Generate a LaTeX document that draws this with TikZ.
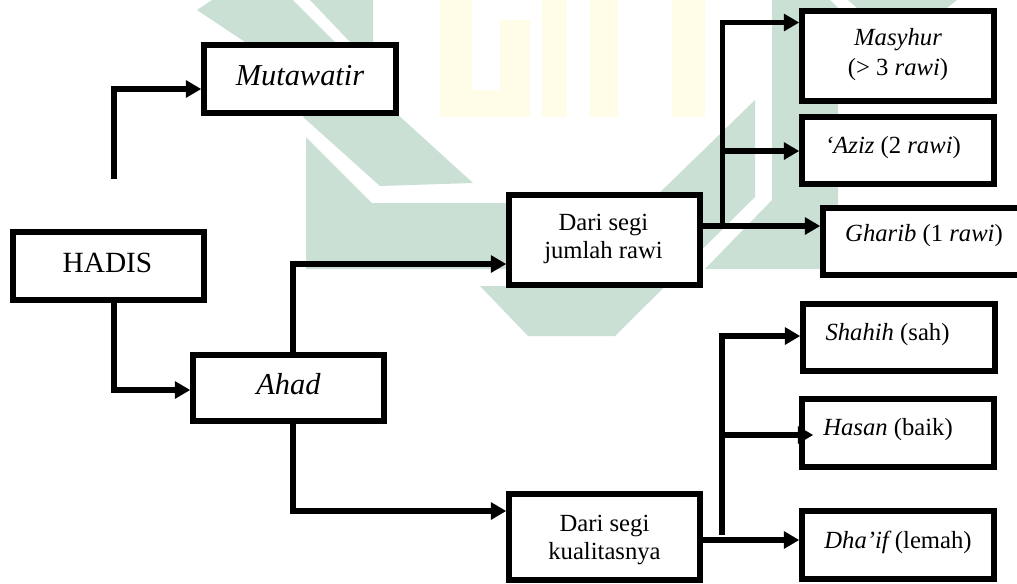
\documentclass[tikz,border=0pt]{standalone}
\usepackage{fontspec}
\setmainfont{Liberation Serif}
\usetikzlibrary{arrows.meta}
\definecolor{wmgreen}{HTML}{CBE0D4}
\definecolor{wmyellow}{HTML}{FFFDE8}
\newcommand{\offtext}[3]{\makebox[0pt][c]{\hspace*{\dimexpr#1pt*3/2\relax}\raisebox{\dimexpr#2pt*3/4\relax}[0pt][0pt]{\begin{tabular}[b]{@{}c@{}}#3\end{tabular}}}}
\newcommand{\bignf}{\fontsize{22}{26}\selectfont}
\newcommand{\bigif}{\fontsize{22.8}{26}\selectfont\itshape}
\newcommand{\smallnf}{\fontsize{18.5}{21.5}\selectfont}
\tikzset{
  flowbox/.style={draw=black,fill=white,line width=4.1pt,rectangle,inner sep=0pt},
  flowline/.style={draw=black,line width=3.8pt},
  flowarrow/.style={flowline,-{Triangle[length=11.5pt,width=12.5pt]}},
  wmg/.style={fill=wmgreen,draw=none},
  wmy/.style={fill=wmyellow,draw=none}
}
\newcommand{\flowbox}[8]{%
  \node[flowbox,anchor=center,minimum width={(#4-#2)*0.75pt},minimum height={(#5-#3)*0.75pt}]
    (#1) at ({(#2+#4)/2},{(#3+#5)/2}) {\offtext{#6}{#7}{#8}};}
\begin{document}
\begin{tikzpicture}[x=0.75pt,y=-0.75pt]
\useasboundingbox (0,0) rectangle (1017,583);
% watermark
\fill[wmy] (440,0) rectangle (472,117);
\fill[wmy] (472,90) rectangle (530,117);
\fill[wmy] (500,20) rectangle (530,90);
\fill[wmy] (542,0) rectangle (567,117);
\fill[wmy] (590,0) rectangle (618,117);
\fill[wmy] (672,0) rectangle (705,117);
\fill[wmg] (197,10) -- (212,0) -- (293,0) -- (335,42) -- (245,42) -- cycle;
\fill[wmg] (310,0) -- (373,0) -- (373,92) -- (473,183) -- (380,186) -- (303,117) -- (330,80) -- (350,42) -- cycle;
\fill[wmg] (306,137) -- (372,203) -- (649,203) -- (755,100) -- (755,197) -- (615,336) -- (528,336) -- (480,286) -- (520,286) -- (520,269) -- (306,269) -- cycle;
\fill[wmg] (772,0) -- (830,0) -- (838,8) -- (838,215) -- (825,269) -- (705,269) -- (772,200) -- cycle;
\fill[wmg] (848,0) -- (957,0) -- (947,8) -- (857,8) -- cycle;
% boxes
\flowbox{mut}{204}{45}{396}{113}{0}{-6}{\bigif Mutawatir}
\flowbox{hadis}{13}{232}{204}{300}{-1}{-6}{\bignf HADIS}
\flowbox{ahad}{193}{355}{384}{421}{0}{-6}{\bigif Ahad}
\flowbox{jumlah}{509}{195}{700}{285}{-1}{-18}{\smallnf Dari segi\\[4.5pt]\smallnf jumlah rawi}
\flowbox{kualitas}{509}{494}{700}{580}{0}{-22.5}{\smallnf Dari segi\\[4.5pt]\smallnf kualitasnya}
\flowbox{masyhur}{802}{11}{994}{101}{0}{-19}{\smallnf\itshape Masyhur\\[5.5pt]\smallnf (> 3 \itshape rawi\upshape)}
\flowbox{aziz}{802}{117}{994}{184}{-5}{-3}{\smallnf\itshape ‘Aziz \upshape(2 \itshape rawi\upshape)}
\flowbox{gharib}{823}{208}{1025}{275}{0}{0}{\smallnf\itshape Gharib \upshape(1 \itshape rawi\upshape)}
\flowbox{shahih}{803}{304}{995}{371}{-11.5}{-2.5}{\smallnf\itshape Shahih \upshape(sah)}
\flowbox{hasan}{802}{399}{994}{467}{-10}{-2}{\smallnf\itshape Hasan \upshape(baik)}
\flowbox{dhaif}{802}{511}{994}{579}{0}{-3}{\smallnf\itshape Dha’if \upshape(lemah)}
% connectors
\coordinate (stub) at (114,179);
\coordinate (jt) at (722.5,226);
\coordinate (kt) at (722,535);
\draw[flowarrow] (stub) |- (mut.west |- 0,89);
\draw[flowarrow] (114,0 |- hadis.south) |- (ahad.west |- 0,390);
\draw[flowarrow] (293,0 |- ahad.north) |- (jumlah.west |- 0,264);
\draw[flowarrow] (293,0 |- ahad.south) |- (kualitas.west |- 0,511);
\draw[flowarrow] (jumlah.east |- 0,226) -- (gharib.west |- 0,226);
\draw[flowarrow] (jt) |- (masyhur.west |- 0,22.5);
\draw[flowarrow] (jt |- 0,151) -- (aziz.west |- 0,151);
\draw[flowarrow] (kualitas.east |- 0,540) -- (dhaif.west |- 0,540);
\draw[flowarrow] (kt) |- (shahih.west |- 0,336);
\draw[flowarrow,shorten >=-10.5pt] (kt |- 0,435) -- (hasan.west |- 0,435);
\end{tikzpicture}
\end{document}
